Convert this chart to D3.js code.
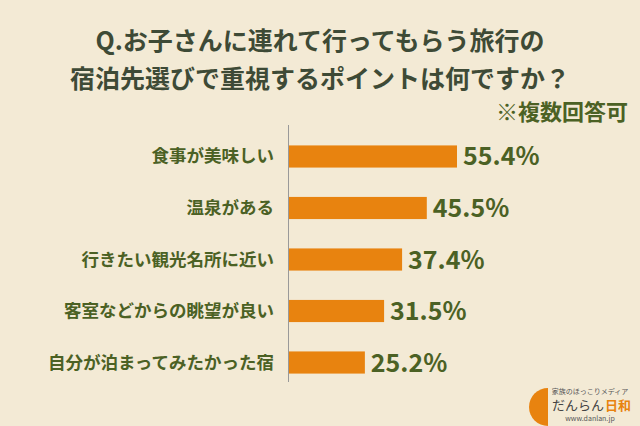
<!DOCTYPE html><html><head><meta charset="utf-8"><script src="https://cdn.jsdelivr.net/npm/d3@7"></script>
<style>body{margin:0;background:#f3ead5}text{font-family:"Noto Sans CJK JP",sans-serif}</style></head><body><svg id="c" width="640" height="426"></svg>
<script>
const categories=["食事が美味しい","温泉がある","行きたい観光名所に近い","客室などからの眺望が良い","自分が泊まってみたかった宿"];
const values=[55.4,45.5,37.4,31.5,25.2];
const svg=d3.select("#c");
svg.append("rect").attr("width",640).attr("height",426).attr("fill","#f3ead5");
const x=d3.scaleLinear().domain([0,55.4]).range([288,457]);
const y=d3.scaleBand().domain(categories).range([131,388]).paddingInner(0.57).paddingOuter(0.28);
const tc="#3e4a36", gc="#4b6124";
svg.append("text").attr("x",320).attr("y",50).attr("text-anchor","middle").attr("font-size",25).attr("font-weight","bold").attr("fill",tc).text("Q.お子さんに連れて行ってもらう旅行の");
svg.append("text").attr("x",320).attr("y",88).attr("text-anchor","middle").attr("font-size",25).attr("font-weight","bold").attr("fill",tc).text("宿泊先選びで重視するポイントは何ですか？");
svg.append("text").attr("x",628).attr("y",120).attr("text-anchor","end").attr("font-size",22).attr("font-weight","bold").attr("fill",gc).text("※複数回答可");
svg.selectAll(".b").data(values).join("rect").attr("x",x(0)).attr("y",(d,i)=>y(categories[i])).attr("height",y.bandwidth()).attr("width",d=>x(d)-x(0)).attr("fill","#e8830f");
svg.selectAll(".v").data(values).join("text").attr("x",d=>x(d)+6).attr("y",(d,i)=>y(categories[i])+y.bandwidth()/2+9).attr("font-size",25).attr("font-weight","bold").attr("fill",gc).text(d=>d.toFixed(1)+"%");
svg.selectAll(".l").data(categories).join("text").attr("x",274).attr("y",d=>y(d)+y.bandwidth()/2+6).attr("text-anchor","end").attr("font-size",17.5).attr("font-weight","bold").attr("fill",gc).text(d=>d);
svg.append("line").attr("x1",288.5).attr("x2",288.5).attr("y1",125).attr("y2",382).attr("stroke","#999").attr("stroke-width",1);
// logo
svg.append("path").attr("d","M548,388 A19,19 0 0,0 548,426 Z").attr("fill","#e8830f");
svg.append("text").attr("x",590).attr("y",394).attr("text-anchor","middle").attr("font-size",7).attr("fill","#555").text("家族のほっこりメディア");
svg.append("text").attr("x",552).attr("y",410).attr("font-size",13).attr("fill","#444").text("だんらん");
svg.append("text").attr("x",605).attr("y",410).attr("font-size",13).attr("font-weight","bold").attr("fill","#e8830f").text("日和");
svg.append("text").attr("x",590).attr("y",421).attr("text-anchor","middle").attr("font-size",7).attr("fill","#555").text("www.danlan.jp");
</script></body></html>
